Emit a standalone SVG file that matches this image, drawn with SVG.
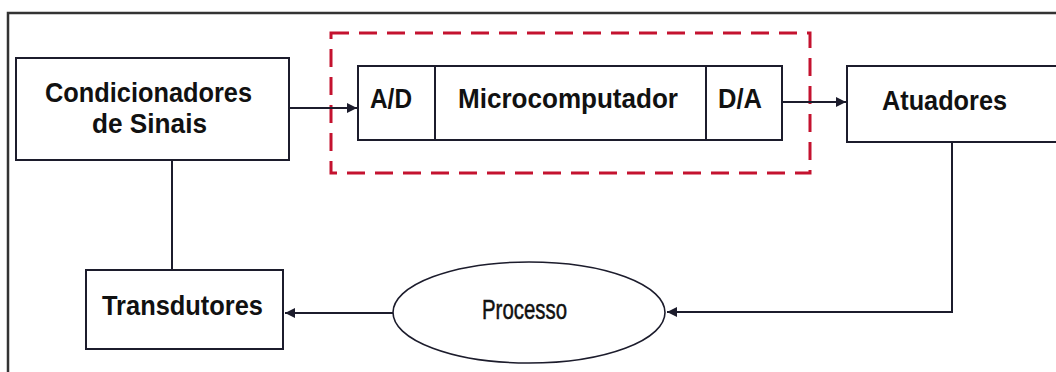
<svg xmlns="http://www.w3.org/2000/svg" width="1056" height="372" viewBox="0 0 1056 372">
<defs>
<style>
.box{fill:#fff;stroke:#1c1c2c;stroke-width:2}
.frame{fill:none;stroke:#333;stroke-width:2.5}
.lbl{font-family:"Liberation Sans",Arial,sans-serif;font-weight:bold;font-size:27px;fill:#111}
.plain{font-family:"Liberation Sans",Arial,sans-serif;font-weight:normal;font-size:27px;fill:#111;stroke:#111;stroke-width:0.5}
.conn{fill:none;stroke:#1c1c2c;stroke-width:2}
.dash{fill:none;stroke:#c4122f;stroke-width:3;stroke-dasharray:18 10}
</style>
<marker id="arr" viewBox="0 0 10 10" refX="10" refY="5" markerWidth="11" markerHeight="10" markerUnits="userSpaceOnUse" orient="auto">
<path d="M0,0 L10,5 L0,10 Z" fill="#1c1c2c"/>
</marker>
</defs>
<rect width="1056" height="372" fill="#fff"/>
<rect class="frame" x="8" y="13" width="1070" height="380"/>
<rect id="grupo" class="dash" x="331" y="33" width="479" height="140"/>
<g id="connectors">
<line class="conn" x1="289" y1="108" x2="357" y2="108" marker-end="url(#arr)"/>
<line class="conn" x1="782" y1="102" x2="846" y2="102" marker-end="url(#arr)"/>
<polyline class="conn" points="952,142 952,312 667,312" marker-end="url(#arr)"/>
<line class="conn" x1="393" y1="313" x2="285" y2="313" marker-end="url(#arr)"/>
<line class="conn" x1="172" y1="160" x2="172" y2="270"/>
</g>
<g id="condicionadores">
<rect class="box" x="16" y="58" width="273" height="102"/>
<text class="lbl" x="45" y="102" textLength="207" lengthAdjust="spacingAndGlyphs">Condicionadores</text>
<text class="lbl" x="92" y="133" textLength="115" lengthAdjust="spacingAndGlyphs">de Sinais</text>
</g>
<g id="ad">
<rect class="box" x="358" y="66" width="77" height="74"/>
<text class="lbl" x="370" y="108" textLength="42" lengthAdjust="spacingAndGlyphs">A/D</text>
</g>
<g id="microcomputador">
<rect class="box" x="435" y="66" width="271" height="74"/>
<text class="lbl" x="458" y="108" textLength="220" lengthAdjust="spacingAndGlyphs">Microcomputador</text>
</g>
<g id="da">
<rect class="box" x="706" y="66" width="76" height="74"/>
<text class="lbl" x="718" y="108" textLength="44" lengthAdjust="spacingAndGlyphs">D/A</text>
</g>
<g id="atuadores">
<rect class="box" x="847" y="66" width="230" height="76"/>
<text class="lbl" x="882" y="110" textLength="125" lengthAdjust="spacingAndGlyphs">Atuadores</text>
</g>
<g id="transdutores">
<rect class="box" x="86" y="270" width="197" height="79"/>
<text class="lbl" x="102" y="315" textLength="161" lengthAdjust="spacingAndGlyphs">Transdutores</text>
</g>
<g id="processo">
<ellipse cx="529" cy="312.5" rx="136" ry="50.5" fill="#fff" stroke="#1c1c2c" stroke-width="1.6"/>
<text class="plain" x="482" y="319" textLength="85" lengthAdjust="spacingAndGlyphs">Processo</text>
</g>
</svg>
